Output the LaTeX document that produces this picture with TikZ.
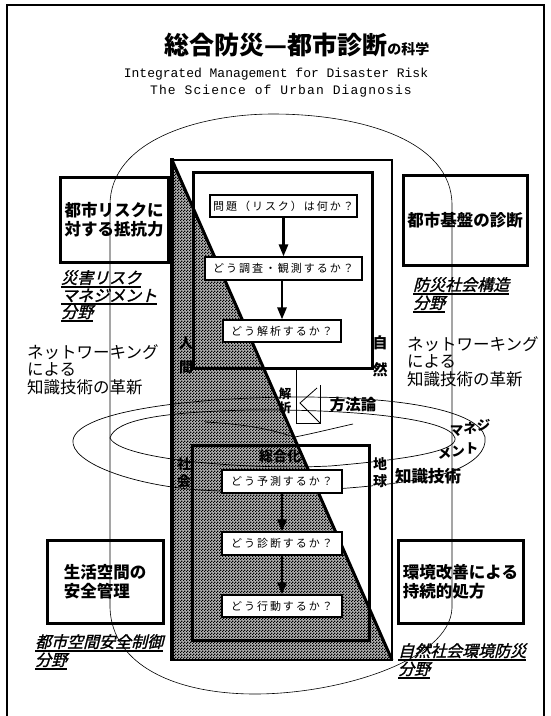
\documentclass[tikz,border=0pt]{standalone}
\usepackage{fontspec}
\usetikzlibrary{arrows.meta,patterns}
\newfontfamily\jp{Noto Sans CJK JP}
\newfontfamily\jpit[FakeSlant=0.25,FakeBold=1.5]{Noto Sans CJK JP}
\newfontfamily\jpw[LetterSpace=18]{Noto Sans CJK JP}
\newfontfamily\mono{Liberation Mono}
\newfontfamily\monow[LetterSpace=8.5]{Liberation Mono}
\newcommand\ulbox[1]{\leavevmode\vtop{\hbox{#1}\kern1.2pt\hrule height1.4pt}}
\pgfdeclarepatternformonly{checker}{\pgfqpoint{0pt}{0pt}}{\pgfqpoint{3pt}{3pt}}{\pgfqpoint{3pt}{3pt}}{%
  \pgfpathrectangle{\pgfqpoint{0pt}{0pt}}{\pgfqpoint{1.5pt}{1.5pt}}%
  \pgfpathrectangle{\pgfqpoint{1.5pt}{1.5pt}}{\pgfqpoint{1.5pt}{1.5pt}}%
  \pgfusepath{fill}}
\begin{document}
\begin{tikzpicture}[x=1pt,y=-1pt,
  thinline/.style={line width=0.6pt},
  labelbox/.style={draw,line width=3pt,inner sep=0pt,align=left,font=\jp\bfseries\fontsize{16.5}{19}\selectfont},
  flowbox/.style={draw,fill=white,line width=1.1pt,inner sep=0pt,font=\jpw\fontsize{11}{11}\selectfont},
  flowarrow/.style={line width=2.6pt,-{Triangle[width=9pt,length=12pt]}},
  fieldlabel/.style={anchor=north west,inner sep=0pt,align=left,font=\jpit\fontsize{16}{16.5}\selectfont},
  netlabel/.style={anchor=north west,inner sep=0pt,align=left,font=\jp\fontsize{16.5}{17.5}\selectfont},
  vlabel/.style={inner sep=0.3pt,align=center,font=\jp\bfseries\fontsize{14}{17}\selectfont},
  steplabel/.style={inner sep=0pt,font=\jp\bfseries\fontsize{13.5}{13.5}\selectfont},
  swirl/.style={line width=0.7pt}
]
\useasboundingbox (0,0) rectangle (550,716);
\fill[white] (0,0) rectangle (550,716);
% frame
\draw[line width=1.5pt] (7,720) -- (7,5) -- (544,5) -- (544,720);
% capsule outline
\draw[thinline] (110,205) .. controls (110,140) and (200,114) .. (273,114)
  .. controls (360,114) and (452,140) .. (452,205) -- (452,608)
  .. controls (450,660) and (340,694) .. (255,694)
  .. controls (175,694) and (112,665) .. (110,608) -- cycle;
% hatched triangle
\fill[black!30] (172,160) -- (392,660) -- (172,660) -- cycle;
\fill[pattern=checker] (172,160) -- (392,660) -- (172,660) -- cycle;
% swirl
\draw[swirl] (485,437) .. controls (478,410) and (400,397) .. (300,397)
  .. controls (200,397) and (78,410) .. (73,440)
  .. controls (70,462) and (130,485) .. (200,490)
  .. controls (280,495) and (400,488) .. (450,472)
  .. controls (475,463) and (487,450) .. (485,437);
\draw[swirl] (110,438) .. controls (115,420) and (160,412) .. (250,410)
  .. controls (350,409) and (450,418) .. (455,438)
  .. controls (458,452) and (400,460) .. (330,466)
  .. controls (250,470) and (120,460) .. (110,438);
\draw[swirl] (205,422) .. controls (260,425) and (280,433) .. (295,437)
  .. controls (315,433) and (335,428) .. (353,424);
% main structure
\draw[line width=2pt] (172,160) rectangle (392,660);
\draw[line width=4pt] (172,158) -- (172,661);
\draw[line width=3pt] (172,160) -- (392,660);
\draw[line width=3pt] (193,172) rectangle (372,368);
\draw[line width=3pt] (192,445) rectangle (369,640);
% method arrow outline
\draw[line width=0.8pt] (296,368) -- (296,423) -- (320,423) -- (320,385);
\draw[line width=0.8pt] (317,388) -- (300,403) -- (320,423);
% flow boxes
\node[flowbox, minimum width=147pt, minimum height=22pt] (f1) at (283.5,206) {問題（リスク）は何か？};
\node[flowbox, minimum width=157pt, minimum height=23pt] (f2) at (283.5,268.5) {どう調査・観測するか？};
\node[flowbox, minimum width=118pt, minimum height=22pt] (f3) at (282,331) {どう解析するか？};
\node[flowbox, minimum width=120pt, minimum height=23pt] (f4) at (282,481.5) {どう予測するか？};
\node[flowbox, minimum width=120pt, minimum height=23pt] (f5) at (282,543.5) {どう診断するか？};
\node[flowbox, minimum width=120pt, minimum height=22pt] (f6) at (282,606) {どう行動するか？};
\draw[flowarrow] (f1.south) -- (f2.north);
\draw[flowarrow] (f2.south -| f3) -- (f3.north);
\draw[flowarrow] (f4.south) -- (f5.north);
\draw[flowarrow] (f5.south) -- (f6.north);
% title
\node[inner sep=0pt] (title) at (297,45) {{\jp\bfseries\fontsize{25}{25}\selectfont 総合防災—都市診断}{\jp\bfseries\fontsize{14}{14}\selectfont の科学}};
\node[inner sep=0pt, font=\mono\fontsize{13}{13}\selectfont] (en1) at (276,74) {Integrated Management for Disaster Risk};
\node[inner sep=0pt, font=\monow\fontsize{13}{13}\selectfont] (en2) at (281,91) {The Science of Urban Diagnosis};
% side boxes
\node[labelbox, minimum width=108pt, minimum height=85pt] (lb1) at (114,219.5) {都市リスクに\\対する抵抗力};
\node[labelbox, minimum width=124pt, minimum height=90pt] (rb1) at (465,220) {都市基盤の診断};
\node[labelbox, minimum width=116pt, minimum height=83pt] (lb2) at (105,581.5) {生活空間の\\安全管理};
\node[labelbox, minimum width=125pt, minimum height=83pt] (rb2) at (460.5,581.5) {環境改善による\\持続的処方};
% field labels
\node[fieldlabel] (fl1) at (61,270) {\ulbox{災害リスク}\\\ulbox{マネジメント}\\\ulbox{分野}};
\node[fieldlabel] (fl2) at (413,277) {\ulbox{防災社会構造}\\\ulbox{分野}};
\node[fieldlabel] (fl3) at (35,634) {\ulbox{都市空間安全制御}\\\ulbox{分野}};
\node[fieldlabel] (fl4) at (398,643) {\ulbox{自然社会環境防災}\\\ulbox{分野}};
% networking labels
\node[netlabel] (nl1) at (27,344) {ネットワーキング\\による\\知識技術の革新};
\node[netlabel] (nl2) at (407,336) {ネットワーキング\\による\\知識技術の革新};
% swirl labels
\node[inner sep=0.5pt, font=\jp\bfseries\fontsize{15.5}{15.5}\selectfont] (mt) at (353,405) {方法論};
\node[inner sep=0.5pt, font=\jp\bfseries\fontsize{16.5}{16.5}\selectfont] (kt) at (428,476) {知識技術};
\node[steplabel] (mg1) at (470,428) {マ\raisebox{2.5pt}{ネ}\raisebox{5pt}{ジ}};
\node[steplabel] (mg2) at (458,451) {メ\raisebox{2.5pt}{ン}\raisebox{5pt}{ト}};
% vertical labels
\node[vlabel, font=\jp\bfseries\fontsize{14}{24}\selectfont] (hum) at (186,355) {人\\間};
\node[vlabel, font=\jp\bfseries\fontsize{15}{27}\selectfont] (nat) at (380,356) {自\\然};
\node[vlabel] (soc) at (184,473) {社\\会};
\node[vlabel, fill=white] (ear) at (380,473) {地\\球};
\node[vlabel, font=\jp\bfseries\fontsize{12.5}{14}\selectfont] (ana) at (285,401) {解\\析};
\node[inner sep=0.5pt, font=\jp\bfseries\fontsize{14}{14}\selectfont] (int) at (280,456) {総合化};
\end{tikzpicture}
\end{document}
